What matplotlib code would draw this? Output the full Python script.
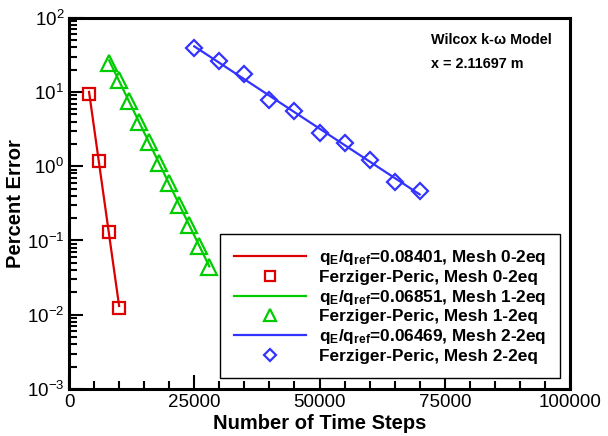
import numpy as np
import matplotlib
matplotlib.use('Agg')
import matplotlib.pyplot as plt
from matplotlib.ticker import LogLocator, MultipleLocator, NullFormatter

plt.rcParams['font.family'] = ['Liberation Sans', 'DejaVu Sans']
plt.rcParams['mathtext.fontset'] = 'custom'
plt.rcParams['mathtext.rm'] = 'Liberation Sans'
plt.rcParams['mathtext.bf'] = 'Liberation Sans:bold'
plt.rcParams['mathtext.it'] = 'Liberation Sans:italic'

# Percent error vs time steps, Ferziger-Peric estimates per mesh
mesh0_steps = [4000, 6000, 8000, 10000]
mesh0_err = [9.4, 1.17, 0.13, 0.0122]

mesh1_steps = [8000, 10000, 12000, 14000, 16000, 18000, 20000, 22000, 24000, 26000, 28000]
mesh1_err = [25.0, 14.4, 7.7, 4.0, 2.1, 1.1, 0.59, 0.30, 0.16, 0.085, 0.044]

mesh2_steps = [25000, 30000, 35000, 40000, 45000, 50000, 55000, 60000, 65000, 70000]
mesh2_err = [39.0, 26.0, 17.5, 7.9, 5.6, 2.8, 2.05, 1.2, 0.62, 0.46]

fit_labels = [r'$\mathbf{q_E/q_{ref}}$=0.08401, Mesh 0-2eq',
              r'$\mathbf{q_E/q_{ref}}$=0.06851, Mesh 1-2eq',
              r'$\mathbf{q_E/q_{ref}}$=0.06469, Mesh 2-2eq']
fp_labels = ['Ferziger-Peric, Mesh 0-2eq',
             'Ferziger-Peric, Mesh 1-2eq',
             'Ferziger-Peric, Mesh 2-2eq']
colors = ['#dd0000', '#00cc00', '#3333ff']
markers = ['s', '^', 'D']
msizes = [9, 11, 8]

fig = plt.figure(figsize=(6.08, 4.36), dpi=100)
ax = fig.add_axes([0.1135, 0.108, 0.824, 0.851])

series = [(mesh0_steps, mesh0_err), (mesh1_steps, mesh1_err), (mesh2_steps, mesh2_err)]
for i, (xs, ys) in enumerate(series):
    xs = np.array(xs, dtype=float)
    ys = np.array(ys, dtype=float)
    # exponential fit drawn as a straight line on the log axis
    k, b = np.polyfit(xs, np.log10(ys), 1)
    xf = np.array([xs.min(), xs.max()])
    ax.plot(xf, 10 ** (k * xf + b), '-', color=colors[i], lw=1.6, label=fit_labels[i])
    ax.plot(xs, ys, linestyle='none', marker=markers[i], ms=msizes[i], mfc='none',
            mec=colors[i], mew=1.6, label=fp_labels[i])

ax.set_yscale('log')
ax.set_xlim(0, 100000)
ax.set_ylim(1e-3, 1e2)
ax.xaxis.set_major_locator(MultipleLocator(25000))
ax.xaxis.set_minor_locator(MultipleLocator(5000))
ax.yaxis.set_major_locator(LogLocator(base=10, numticks=10))
ax.yaxis.set_minor_locator(LogLocator(base=10, subs=np.arange(2, 10), numticks=20))
ax.yaxis.set_minor_formatter(NullFormatter())
ax.tick_params(which='both', direction='in', top=False, right=False, labelsize=13.5, width=1.5)
ax.tick_params(which='major', length=10)
ax.tick_params(which='minor', length=6)
for s in ax.spines.values():
    s.set_linewidth(2.2)

ax.set_xlabel('Number of Time Steps', fontsize=14.5, fontweight='bold', labelpad=2)
ax.set_ylabel('Percent Error', fontsize=14.5, fontweight='bold', labelpad=1)

ax.text(0.723, 0.94, 'Wilcox k-ω Model', transform=ax.transAxes, fontsize=10.4, fontweight='bold',
        va='center', ha='left')
ax.text(0.723, 0.876, 'x = 2.11697 m', transform=ax.transAxes, fontsize=10.4, fontweight='bold',
        va='center', ha='left')

leg = ax.legend(loc='lower right', bbox_to_anchor=(0.98, 0.03), borderaxespad=0,
                fancybox=False, edgecolor='black', framealpha=1,
                prop={'weight': 'bold', 'size': 12.4}, handlelength=4.2,
                labelspacing=0.16, handletextpad=0.75, borderpad=0.8, markerscale=0.8)
leg.get_frame().set_linewidth(1.0)

fig.savefig('out.png', dpi=100)
